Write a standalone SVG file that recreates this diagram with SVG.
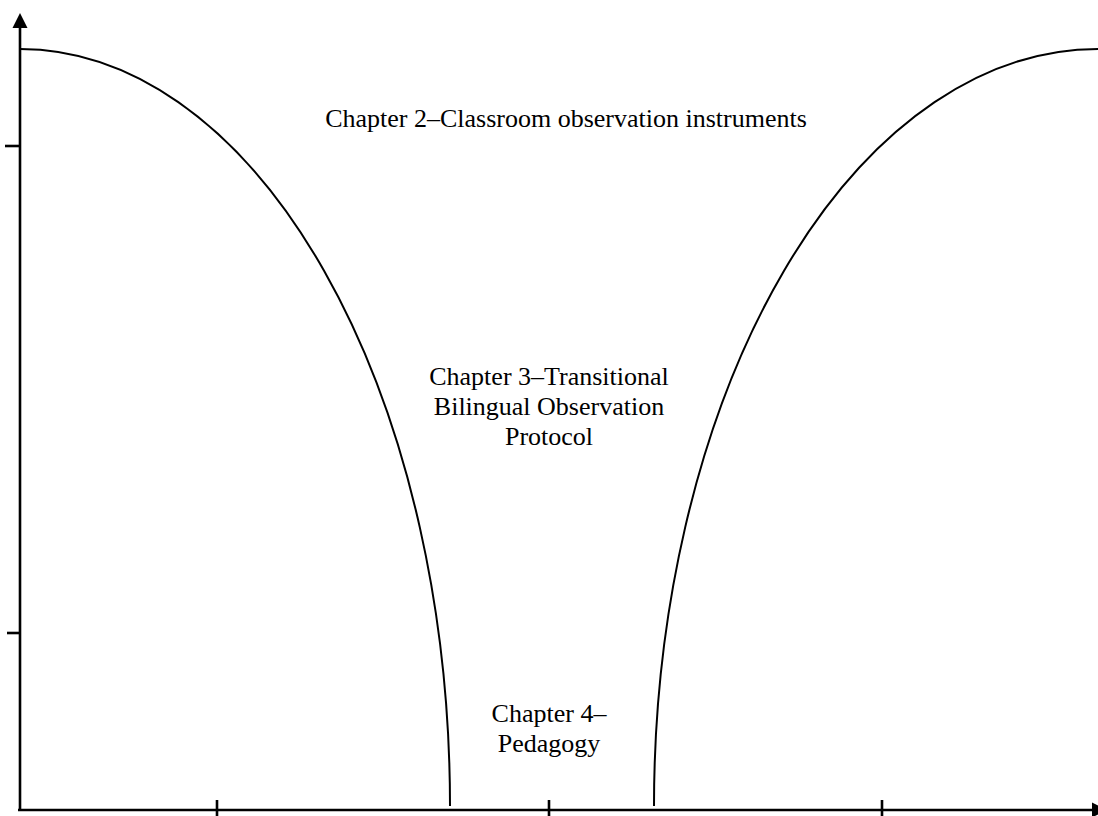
<svg xmlns="http://www.w3.org/2000/svg" width="1098" height="816" viewBox="0 0 1098 816">
  <style>
    .axis { stroke: #000; stroke-width: 2.6; fill: none; }
    .curve { stroke: #000; stroke-width: 2; fill: none; }
    .label { font-family: "Liberation Serif", "Times New Roman", serif; font-size: 26px; fill: #000; text-anchor: middle; }
  </style>
  <rect width="1098" height="816" fill="#fff"/>

  <g id="axes">
    <line class="axis" x1="20" y1="811" x2="20" y2="26"/>
    <polygon points="20,13 12.5,28 27.5,28" fill="#000"/>
    <line class="axis" x1="18" y1="810" x2="1094" y2="810"/>
    <polygon points="1107,810 1092,802.5 1092,817.5" fill="#000"/>
    <line class="axis" x1="5" y1="146" x2="20" y2="146"/>
    <line class="axis" x1="7" y1="633" x2="21" y2="633"/>
    <line class="axis" x1="217" y1="800" x2="217" y2="816"/>
    <line class="axis" x1="549" y1="800" x2="549" y2="816"/>
    <line class="axis" x1="882" y1="800" x2="882" y2="816"/>
  </g>

  <g id="connectors">
    <path class="curve" d="M20,49 A430,757 0 0 1 450,806"/>
    <path class="curve" d="M1098,49 A444,757 0 0 0 654,806"/>
  </g>

  <g id="chapter2">
    <text class="label" x="566" y="127">Chapter 2–Classroom observation instruments</text>
  </g>
  <g id="chapter3">
    <text class="label" x="549" y="385">Chapter 3–Transitional</text>
    <text class="label" x="549" y="415">Bilingual Observation</text>
    <text class="label" x="549" y="445">Protocol</text>
  </g>
  <g id="chapter4">
    <text class="label" x="549" y="722">Chapter 4–</text>
    <text class="label" x="549" y="752">Pedagogy</text>
  </g>
</svg>
